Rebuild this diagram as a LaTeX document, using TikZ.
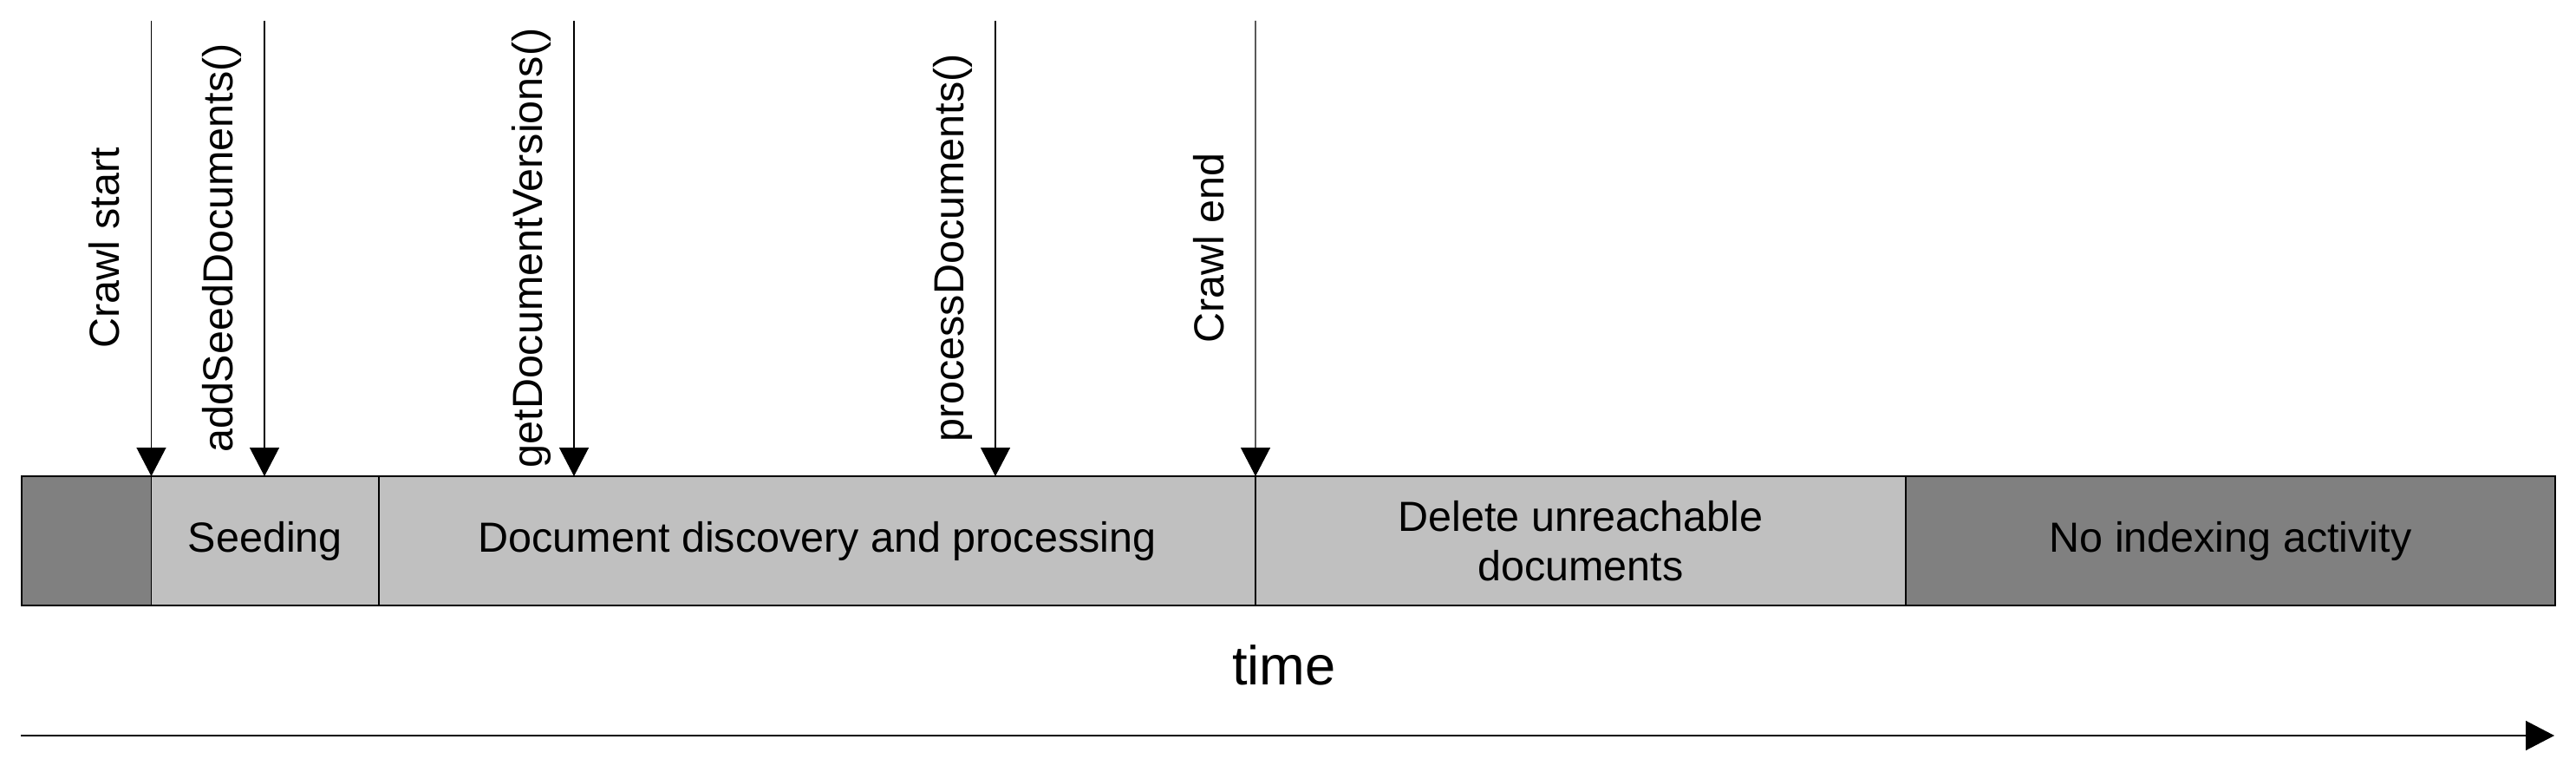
\documentclass[tikz,border=0pt]{standalone}
\usepackage{fontspec}
\setmainfont{Liberation Sans}
\usetikzlibrary{arrows.meta,positioning}
\definecolor{idlegrey}{RGB}{128,128,128}
\definecolor{phasegrey}{RGB}{192,192,192}

\begin{document}
\begin{tikzpicture}[>={Triangle[length=0.33cm,width=0.34cm]},line width=0.35pt,node distance=0pt,
  phase node/.style={rectangle,draw,fill=phasegrey,minimum height=1.49cm,inner sep=0pt,outer sep=0pt,align=center,font=\fontsize{13.8}{16.3}\selectfont},
  call node/.style={rotate=90,anchor=base,inner sep=0pt,font=\fontsize{13.8}{16.3}\selectfont}]
  \useasboundingbox (0,0) rectangle (29.71,8.74);

  \node[phase node,fill=idlegrey,minimum width=1.495cm,anchor=south west] (idle) at (0.25,1.76) {};
  \node[phase node,minimum width=2.625cm] (seed) [right=of idle] {Seeding};
  \node[phase node,minimum width=10.11cm] (disc) [right=of seed] {Document discovery and processing};
  \node[phase node,minimum width=7.5cm] (del) [right=of disc] {Delete unreachable\\documents};
  \node[phase node,fill=idlegrey,minimum width=7.49cm] (none) [right=of del] {No indexing activity};

  \coordinate (cs) at (1.745,8.5);
  \coordinate (asd) at (3.05,8.5);
  \coordinate (gdv) at (6.62,8.5);
  \coordinate (pd) at (11.48,8.5);
  \coordinate (ce) at (14.48,8.5);

  \node[call node] (cs label) at (1.375,5.88) {Crawl start};
  \node[call node] (asd label) at (2.68,5.88) {addSeedDocuments()};
  \node[call node] (gdv label) at (6.25,5.88) {getDocumentVersions()};
  \node[call node] (pd label) at (11.11,5.88) {processDocuments()};
  \node[call node] (ce label) at (14.11,5.88) {Crawl end};

  \draw[->] (cs) -- (idle.north east);
  \draw[->] (asd) -- (asd |- seed.north);
  \draw[->] (gdv) -- (gdv |- disc.north);
  \draw[->] (pd) -- (pd |- disc.north);
  \draw[->] (ce) -- (disc.north east);

  \coordinate (t start) at (0.24,0.26);
  \coordinate (t end) at (29.46,0.26);
  \draw[->] (t start) -- (t end);
  \node[anchor=base,inner sep=0pt,font=\fontsize{18}{21}\selectfont] (time) at (14.81,0.85) {time};
\end{tikzpicture}
\end{document}
